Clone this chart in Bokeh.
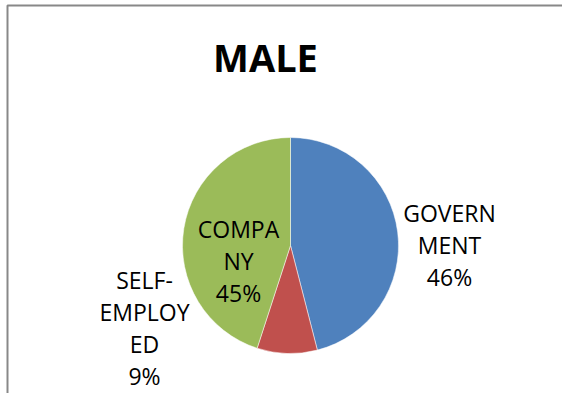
import numpy as np
from bokeh.plotting import figure
from bokeh.models import ColumnDataSource, Range1d
from bokeh.core.properties import value
from bokeh.embed import file_html
from bokeh.resources import INLINE

# ---- data ----
title_text = "MALE"
categories = ["GOVERNMENT", "SELF-EMPLOYED", "COMPANY"]
percents = [46, 9, 45]
label_lines = [["GOVERN", "MENT"], ["SELF-", "EMPLOY", "ED"], ["COMPA", "NY"]]
colors = ["#4F81BD", "#C0504D", "#9BBB59"]

# ---- layout (canvas pixel coordinates, y from top) ----
W, H = 562, 393
def px(x):
    return x
def py(y):
    return H - y

CX, CY, R = 290, 245, 108
LABEL_SIZE = 23
TITLE_SIZE = 38
SHIFT = 0.42  # svg baseline compensation (in em)
label_anchor = [(449, 222), (144, 289), (238, 238)]  # baseline of first line
LINE_STEP = 32
FONT = "Open Sans"

p = figure(width=W, height=H, x_range=Range1d(0, W), y_range=Range1d(0, H),
           x_axis_type=None, y_axis_type=None, output_backend="svg",
           toolbar_location=None, min_border=0)
p.grid.visible = False
p.outline_line_color = None
p.background_fill_color = "white"
p.border_fill_color = "white"

# chart border (left and top visible)
p.line(x=[px(7), px(7), W], y=[0, py(5), py(5)], line_color="#888888", line_width=2)

# pie
vals = np.array(percents, dtype=float)
cum = np.concatenate([[0], np.cumsum(vals)]) / vals.sum()
start = np.pi / 2 - 2 * np.pi * cum[:-1]
end = np.pi / 2 - 2 * np.pi * cum[1:]
src = ColumnDataSource(dict(cat=categories, start=start, end=end, color=colors))
p.wedge(x=px(CX), y=py(CY), radius=R, start_angle="start", end_angle="end",
        direction="clock", fill_color="color", line_color="white", line_width=0.5,
        source=src)

# labels
lx, ly, lt = [], [], []
for lines, pct, (ax, ay) in zip(label_lines, percents, label_anchor):
    for i, t in enumerate(lines + [f"{pct}%"]):
        lx.append(px(ax))
        ly.append(py(ay + i * LINE_STEP - SHIFT * LABEL_SIZE))
        lt.append(t)
p.text(x=lx, y=ly, text=lt, text_font=value(FONT), text_font_size=f"{LABEL_SIZE}px",
       text_align="center", text_baseline="alphabetic", text_color="#000000")

# title
p.text(x=[px(265)], y=[py(72 - SHIFT * TITLE_SIZE)], text=[title_text], text_font=value(FONT),
       text_font_size=f"{TITLE_SIZE}px", text_font_style="bold", text_align="center",
       text_baseline="alphabetic", text_color="#000000")

open("out.html", "w").write(file_html(p, INLINE))
